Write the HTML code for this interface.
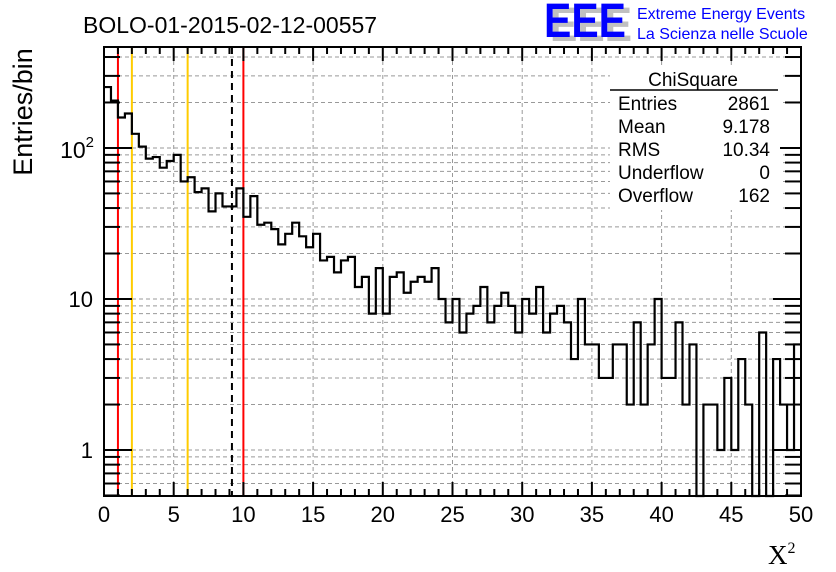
<!DOCTYPE html>
<html><head><meta charset="utf-8"><style>
body{margin:0;background:#fff;}
svg{display:block;font-family:"Liberation Sans",sans-serif;}
</style></head><body>
<svg id="chart" width="836" height="572" viewBox="0 0 836 572" xmlns="http://www.w3.org/2000/svg">
<rect x="0" y="0" width="836" height="572" fill="#fff"/>
<g id="grid"></g>
<g id="vlines"></g>
<g id="hist"></g>
<g id="axes"></g>
<g>
<rect x="610" y="67" width="170" height="143" fill="#fff"/>
<text x="693" y="86" font-size="19" text-anchor="middle">ChiSquare</text>
<line x1="610" y1="90" x2="778" y2="90" stroke="#000" stroke-width="1.5"/>
<g font-size="19">
<text x="618" y="110">Entries</text><text x="770" y="110" text-anchor="end">2861</text>
<text x="618" y="133">Mean</text><text x="770" y="133" text-anchor="end">9.178</text>
<text x="618" y="156">RMS</text><text x="770" y="156" text-anchor="end">10.34</text>
<text x="618" y="179">Underflow</text><text x="770" y="179" text-anchor="end">0</text>
<text x="618" y="202">Overflow</text><text x="770" y="202" text-anchor="end">162</text>
</g></g>
<text x="83" y="33" font-size="23">BOLO-01-2015-02-12-00557</text>
<g>
<text x="550" y="41" font-size="48" font-weight="bold" fill="#c0c0c0" textLength="82" lengthAdjust="spacingAndGlyphs">EEE</text>
<text x="544" y="37" font-size="48" font-weight="bold" fill="#0000ff" textLength="82" lengthAdjust="spacingAndGlyphs">EEE</text>
<text x="637" y="19" font-size="16" fill="#0000ff">Extreme Energy Events</text>
<text x="637" y="39" font-size="16" fill="#0000ff">La Scienza nelle Scuole</text>
</g>
<text transform="translate(32,112) rotate(-90)" font-size="27" text-anchor="middle">Entries/bin</text>
<text x="768" y="564" font-size="27" font-family="Liberation Serif,serif">X<tspan font-size="16" dy="-11">2</tspan></text>
</svg>
<script>
const counts = [253,206,159,169,124,102,85,87,74,82,90,60,64,51,54,38,50,41,41,54,35,48,31,32,29,23,27,32,26,22,27,18,19,15,18,19,12,14,8,16,8,14,15,11,13,14,13,16,10,7,10,6,8,9,12,7,9,11,9,6,10,8,12,6,8,9,7,4,10,5,5,3,3,5,5,2,7,2,5,10,3,3,7,2,5,0,2,2,1,3,1,4,2,0,6,0,4,2,1,5];
const binLow = 0, binWidth = 0.5;
const xTicks = [0,5,10,15,20,25,30,35,40,45,50];
const cutRed = [1,10];
const cutOrange = [2,6];
const meanLine = [9.178];
const L=104,R=801,T=47,B=496, XMIN=0,XMAX=50, YMIN=0.496,YMAX=466;
const NS="http://www.w3.org/2000/svg";
const sx=v=>L+(v-XMIN)/(XMAX-XMIN)*(R-L);
const sy=v=>B-(Math.log10(v)-Math.log10(YMIN))/(Math.log10(YMAX)-Math.log10(YMIN))*(B-T);
function mk(tag,attrs,parent){const e=document.createElementNS(NS,tag);for(const k in attrs)e.setAttribute(k,attrs[k]);parent.appendChild(e);return e;}
const grid=document.getElementById('grid'),axes=document.getElementById('axes'),hist=document.getElementById('hist'),vl=document.getElementById('vlines');
const yTickVals=[];
for(const d of [1,10,100])for(let m=1;m<=9;m++){const v=m*d;if(v<=YMAX)yTickVals.push(v);}
[0.5,0.6,0.7,0.8,0.9].forEach(v=>{if(v>=YMIN)yTickVals.unshift(v);});
yTickVals.forEach(v=>{const y=sy(v);
 const g=mk('line',{x1:L,x2:R,y1:y,y2:y,stroke:'#999','stroke-dasharray':'4,3','stroke-width':1},grid);
 
 
 const major=[1,10,100].includes(v);const len=major?28:16;
 const t1=mk('line',{x1:L,x2:L+len,y1:y,y2:y,stroke:'#000','stroke-width':2},axes);
 
 
 const t2=mk('line',{x1:R-len,x2:R,y1:y,y2:y,stroke:'#000','stroke-width':2},axes);
 
 
});
xTicks.forEach(v=>{const x=sx(v);
 if(v>XMIN&&v<XMAX){const g=mk('line',{x1:x,x2:x,y1:T,y2:B,stroke:'#999','stroke-dasharray':'4,3','stroke-width':1},grid);
 
 }
 const lb=mk('text',{x:x,y:522,'font-size':22,'text-anchor':'middle'},axes);lb.textContent=v;
 
 
});
for(let v=XMIN;v<=XMAX;v++){const x=sx(v);const len=v%5===0?14:7;
 const t1=mk('line',{x1:x,x2:x,y1:B,y2:B-len,stroke:'#000','stroke-width':2},axes);
 
 
 const t2=mk('line',{x1:x,x2:x,y1:T,y2:T+len,stroke:'#000','stroke-width':2},axes);
 
 }
[[1,'1'],[10,'10']].forEach(([v,s])=>{const t=mk('text',{x:L-11,y:sy(v)+8,'font-size':22,'text-anchor':'end'},axes);t.textContent=s;
 
 });
const t100=mk('text',{x:L-10,y:sy(100)+10,'font-size':23,'text-anchor':'end'},axes);


t100.innerHTML='10<tspan font-size="15" dy="-11">2</tspan>';
const fr=mk('rect',{x:L,y:T,width:R-L,height:B-T,fill:'none',stroke:'#000','stroke-width':2},axes);


let d='';
counts.forEach((c,i)=>{const x0=sx(binLow+i*binWidth),x1=sx(binLow+(i+1)*binWidth);const y=c>0?Math.min(sy(c),B):B;
 d+=(i===0?`M${x0},${y}`:`L${x0},${y}`)+`L${x1},${y}`;});
const hp=mk('path',{d:d,fill:'none',stroke:'#000','stroke-width':2.2},hist);


cutRed.forEach(v=>{const l=mk('line',{x1:sx(v),x2:sx(v),y1:T,y2:B,stroke:'#ff0000','stroke-width':2},vl);
 
 });
cutOrange.forEach(v=>{const l=mk('line',{x1:sx(v),x2:sx(v),y1:T,y2:B,stroke:'#ffcc00','stroke-width':2},vl);
 
 });
meanLine.forEach(v=>{const l=mk('line',{x1:sx(v),x2:sx(v),y1:T,y2:B,stroke:'#000','stroke-width':2,'stroke-dasharray':'7,5'},vl);
 
 });
</script>
</body></html>
